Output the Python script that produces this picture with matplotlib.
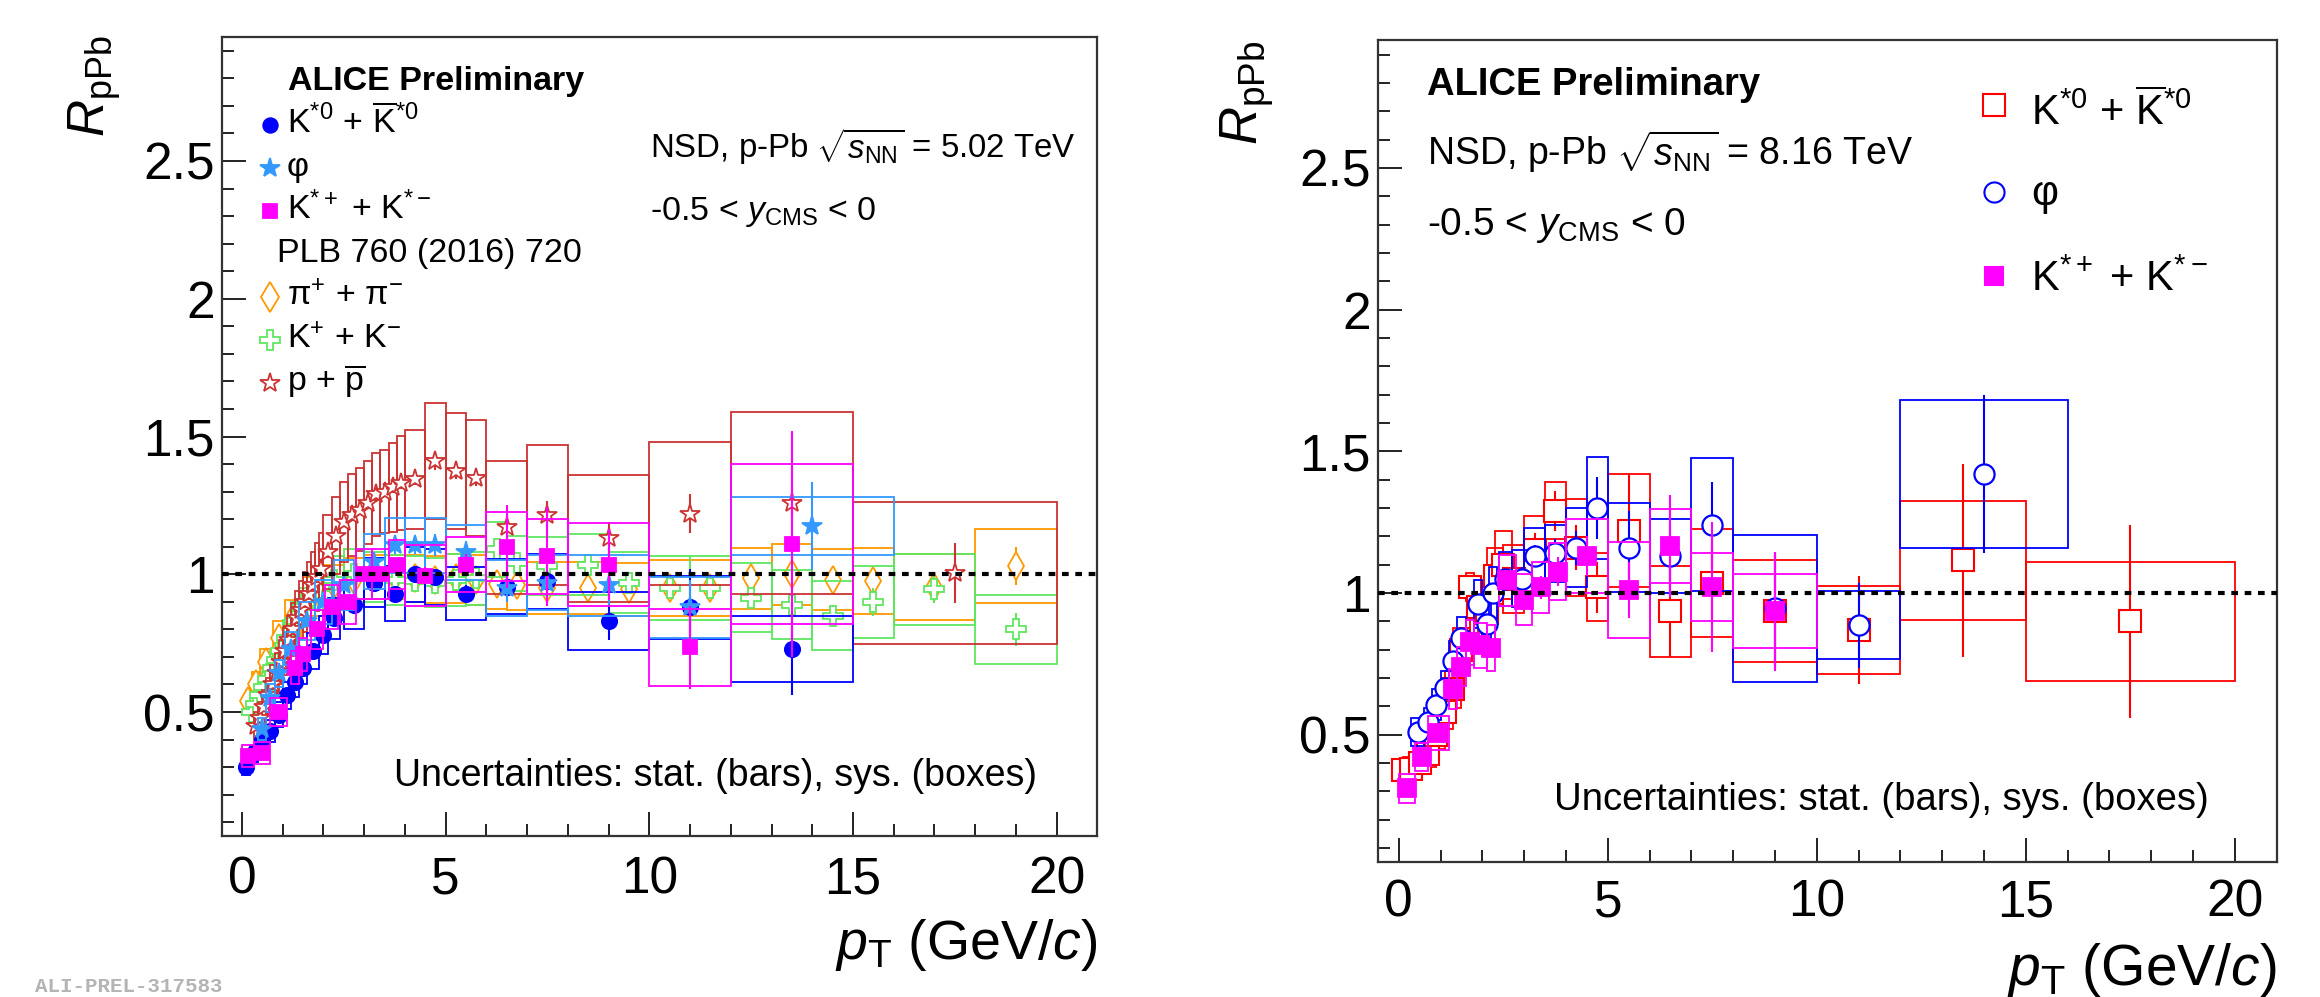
import matplotlib
matplotlib.use('Agg')
import matplotlib.pyplot as plt
from matplotlib.patches import Rectangle
from matplotlib.ticker import FixedLocator, FuncFormatter
import numpy as np

plt.rcParams['font.family'] = ['Liberation Sans', 'DejaVu Sans']
plt.rcParams['mathtext.fontset'] = 'custom'
plt.rcParams['mathtext.rm'] = 'Liberation Sans'
plt.rcParams['mathtext.it'] = 'Liberation Sans:italic'
plt.rcParams['mathtext.bf'] = 'Liberation Sans:bold'

# ---------------- LEFT PANEL DATA (p-Pb 5.02 TeV) ----------------
kst0_x = [0.1, 0.3, 0.5, 0.7, 0.9, 1.1, 1.3, 1.5, 1.75, 2.0, 2.25, 2.75, 3.25, 3.75, 4.25, 4.75, 5.5, 6.5, 7.5, 9.0, 11.0, 13.5]
kst0_y = [0.30, 0.35, 0.40, 0.43, 0.49, 0.56, 0.61, 0.66, 0.72, 0.78, 0.84, 0.89, 0.97, 0.93, 1.00, 0.99, 0.93, 0.955, 0.975, 0.83, 0.88, 0.73]
kst0_stat = [0.01, 0.01, 0.01, 0.01, 0.01, 0.01, 0.01, 0.01, 0.015, 0.015, 0.015, 0.02, 0.02, 0.02, 0.03, 0.03, 0.03, 0.04, 0.05, 0.07, 0.14, 0.17]
kst0_sys = [0.03, 0.03, 0.035, 0.04, 0.045, 0.05, 0.055, 0.06, 0.065, 0.07, 0.075, 0.09, 0.09, 0.10, 0.10, 0.10, 0.095, 0.10, 0.10, 0.105, 0.115, 0.12]
kst0_hw = [0.1, 0.1, 0.1, 0.1, 0.1, 0.1, 0.1, 0.1, 0.15, 0.1, 0.15, 0.25, 0.25, 0.25, 0.25, 0.25, 0.5, 0.5, 0.5, 1.0, 1.0, 1.5]

phi_x = [0.5, 0.7, 0.9, 1.2, 1.6, 2.0, 2.5, 3.25, 3.75, 4.25, 4.75, 5.5, 6.5, 7.5, 9.0, 11.0, 14.0]
phi_y = [0.44, 0.55, 0.64, 0.73, 0.83, 0.90, 0.96, 1.045, 1.105, 1.105, 1.105, 1.08, 0.95, 0.97, 0.96, 0.88, 1.175]
phi_stat = [0.02, 0.02, 0.02, 0.02, 0.02, 0.02, 0.02, 0.03, 0.03, 0.03, 0.04, 0.04, 0.05, 0.06, 0.07, 0.10, 0.16]
phi_sys = [0.04, 0.05, 0.05, 0.06, 0.07, 0.08, 0.09, 0.10, 0.10, 0.10, 0.10, 0.10, 0.10, 0.10, 0.11, 0.11, 0.105]
phi_hw = [0.1, 0.1, 0.1, 0.15, 0.2, 0.2, 0.25, 0.25, 0.25, 0.25, 0.25, 0.5, 0.5, 0.5, 1.0, 1.0, 2.0]

kstc_x = [0.15, 0.5, 0.9, 1.3, 1.5, 1.85, 2.2, 2.6, 3.0, 3.4, 3.8, 4.5, 5.5, 6.5, 7.5, 9.0, 11.0, 13.5]
kstc_y = [0.34, 0.35, 0.50, 0.66, 0.71, 0.80, 0.88, 0.90, 1.00, 1.00, 1.035, 0.995, 1.035, 1.10, 1.065, 1.035, 0.735, 1.11]
kstc_stat = [0.01, 0.01, 0.01, 0.01, 0.01, 0.015, 0.015, 0.02, 0.02, 0.02, 0.025, 0.03, 0.04, 0.15, 0.18, 0.13, 0.15, 0.41]
kstc_sys = [0.04, 0.04, 0.05, 0.06, 0.06, 0.07, 0.08, 0.08, 0.09, 0.09, 0.09, 0.11, 0.10, 0.125, 0.135, 0.15, 0.14, 0.29]
kstc_hw = [0.15, 0.2, 0.2, 0.1, 0.1, 0.15, 0.15, 0.2, 0.2, 0.2, 0.2, 0.5, 0.5, 0.5, 0.5, 1.0, 1.0, 1.5]

pi_x = [0.15, 0.35, 0.6, 0.9, 1.25, 1.75, 2.25, 2.75, 3.25, 3.75, 4.25, 4.75, 5.25, 5.75, 6.25, 6.75, 7.5, 8.5, 9.5, 10.5, 11.5, 12.5, 13.5, 14.5, 15.5, 17.0, 19.0]
pi_y = [0.54, 0.60, 0.68, 0.77, 0.84, 0.92, 0.96, 0.98, 0.99, 0.99, 0.985, 0.98, 0.985, 0.98, 0.965, 0.96, 0.95, 0.95, 0.945, 0.95, 0.95, 0.985, 1.0, 0.98, 0.975, 0.955, 1.03]
pi_stat = [0.04, 0.01, 0.01, 0.01, 0.01, 0.01, 0.01, 0.01, 0.01, 0.01, 0.01, 0.01, 0.01, 0.01, 0.015, 0.015, 0.015, 0.02, 0.02, 0.02, 0.025, 0.03, 0.03, 0.03, 0.04, 0.05, 0.07]
pi_sys = [0.04, 0.045, 0.05, 0.06, 0.065, 0.07, 0.075, 0.08, 0.08, 0.08, 0.085, 0.085, 0.09, 0.09, 0.09, 0.09, 0.095, 0.095, 0.095, 0.10, 0.10, 0.11, 0.11, 0.11, 0.12, 0.12, 0.135]
pi_hw = [0.05, 0.1, 0.15, 0.15, 0.2, 0.25, 0.25, 0.25, 0.25, 0.25, 0.25, 0.25, 0.25, 0.25, 0.25, 0.25, 0.5, 0.5, 0.5, 0.5, 0.5, 0.5, 0.5, 0.5, 0.5, 1.0, 1.0]

kch_x = [0.25, 0.35, 0.45, 0.55, 0.65, 0.75, 0.85, 0.95, 1.1, 1.3, 1.5, 1.7, 1.9, 2.25, 2.75, 3.25, 3.75, 4.25, 4.75, 5.25, 5.75, 6.25, 6.75, 7.5, 8.5, 9.5, 10.5, 11.5, 12.5, 13.5, 14.5, 15.5, 17.0, 19.0]
kch_y = [0.50, 0.53, 0.56, 0.59, 0.62, 0.66, 0.69, 0.72, 0.77, 0.83, 0.88, 0.92, 0.95, 0.98, 1.0, 0.99, 0.98, 0.975, 0.97, 0.98, 0.985, 1.09, 1.04, 1.03, 1.035, 0.97, 0.95, 0.95, 0.915, 0.89, 0.85, 0.90, 0.945, 0.80]
kch_stat = [0.01, 0.01, 0.01, 0.01, 0.01, 0.01, 0.01, 0.01, 0.01, 0.01, 0.01, 0.01, 0.01, 0.01, 0.01, 0.01, 0.01, 0.01, 0.015, 0.015, 0.015, 0.02, 0.02, 0.02, 0.025, 0.025, 0.03, 0.03, 0.03, 0.035, 0.04, 0.05, 0.05, 0.06]
kch_sys = [0.05, 0.05, 0.05, 0.055, 0.055, 0.06, 0.06, 0.06, 0.065, 0.07, 0.07, 0.075, 0.08, 0.085, 0.09, 0.09, 0.09, 0.09, 0.09, 0.095, 0.095, 0.10, 0.10, 0.105, 0.11, 0.11, 0.115, 0.115, 0.125, 0.125, 0.125, 0.13, 0.13, 0.125]
kch_hw = [0.05, 0.05, 0.05, 0.05, 0.05, 0.05, 0.05, 0.05, 0.1, 0.1, 0.1, 0.1, 0.1, 0.25, 0.25, 0.25, 0.25, 0.25, 0.25, 0.25, 0.25, 0.25, 0.25, 0.5, 0.5, 0.5, 0.5, 0.5, 0.5, 0.5, 0.5, 0.5, 1.0, 1.0]

p_x = [0.35, 0.45, 0.55, 0.65, 0.75, 0.85, 0.95, 1.05, 1.15, 1.25, 1.35, 1.45, 1.55, 1.65, 1.75, 1.85, 1.95, 2.1, 2.3, 2.5, 2.7, 2.9, 3.1, 3.3, 3.5, 3.7, 3.9, 4.25, 4.75, 5.25, 5.75, 6.5, 7.5, 9.0, 11.0, 13.5, 17.5]
p_y = [0.45, 0.48, 0.52, 0.56, 0.60, 0.64, 0.68, 0.72, 0.76, 0.80, 0.84, 0.87, 0.90, 0.93, 0.96, 0.99, 1.02, 1.08, 1.14, 1.19, 1.215, 1.235, 1.26, 1.29, 1.30, 1.315, 1.33, 1.345, 1.41, 1.375, 1.35, 1.17, 1.215, 1.13, 1.22, 1.26, 1.005]
p_stat = [0.02, 0.02, 0.02, 0.02, 0.02, 0.02, 0.02, 0.02, 0.02, 0.02, 0.02, 0.02, 0.02, 0.02, 0.02, 0.02, 0.02, 0.02, 0.02, 0.02, 0.02, 0.02, 0.02, 0.02, 0.02, 0.02, 0.02, 0.02, 0.03, 0.03, 0.03, 0.05, 0.05, 0.06, 0.07, 0.05, 0.11]
p_sys = [0.05, 0.055, 0.06, 0.065, 0.07, 0.075, 0.08, 0.085, 0.09, 0.095, 0.10, 0.105, 0.11, 0.115, 0.12, 0.125, 0.13, 0.135, 0.14, 0.145, 0.15, 0.15, 0.15, 0.15, 0.15, 0.16, 0.17, 0.18, 0.21, 0.21, 0.21, 0.24, 0.255, 0.23, 0.26, 0.33, 0.257]
p_hw = [0.05, 0.05, 0.05, 0.05, 0.05, 0.05, 0.05, 0.05, 0.05, 0.05, 0.05, 0.05, 0.05, 0.05, 0.05, 0.05, 0.05, 0.1, 0.1, 0.1, 0.1, 0.1, 0.1, 0.1, 0.1, 0.1, 0.1, 0.25, 0.25, 0.25, 0.25, 0.5, 0.5, 1.0, 1.0, 1.5, 2.5]

# ---------------- RIGHT PANEL DATA (p-Pb 8.16 TeV) ----------------
rk0_x = [0.1, 0.3, 0.5, 0.7, 0.9, 1.1, 1.3, 1.5, 1.7, 1.9, 2.1, 2.3, 2.5, 2.75, 3.25, 3.75, 4.25, 4.75, 5.5, 6.5, 7.5, 9.0, 11.0, 13.5, 17.5]
rk0_y = [0.375, 0.38, 0.40, 0.43, 0.50, 0.58, 0.66, 0.80, 1.02, 0.95, 0.93, 1.06, 1.10, 1.05, 1.15, 1.29, 1.16, 1.02, 1.22, 0.935, 1.035, 0.935, 0.87, 1.115, 0.90]
rk0_stat = [0.02, 0.02, 0.02, 0.02, 0.02, 0.02, 0.02, 0.03, 0.04, 0.03, 0.03, 0.04, 0.05, 0.05, 0.06, 0.07, 0.08, 0.09, 0.20, 0.16, 0.12, 0.20, 0.19, 0.34, 0.34]
rk0_sys = [0.04, 0.04, 0.04, 0.045, 0.05, 0.06, 0.065, 0.075, 0.05, 0.09, 0.10, 0.10, 0.12, 0.12, 0.12, 0.10, 0.17, 0.12, 0.20, 0.16, 0.19, 0.18, 0.155, 0.21, 0.21]
rk0_hw = [0.2, 0.2, 0.2, 0.2, 0.2, 0.2, 0.2, 0.2, 0.1, 0.2, 0.2, 0.2, 0.2, 0.25, 0.25, 0.25, 0.25, 0.25, 0.5, 0.5, 0.5, 1.0, 1.0, 1.5, 2.5]

rphi_x = [0.45, 0.7, 0.9, 1.1, 1.3, 1.5, 1.9, 2.1, 2.25, 2.55, 2.95, 3.25, 3.75, 4.25, 4.75, 5.5, 6.5, 7.5, 9.0, 11.0, 14.0]
rphi_y = [0.51, 0.545, 0.605, 0.665, 0.76, 0.84, 0.96, 0.89, 1.0, 1.05, 1.05, 1.13, 1.14, 1.16, 1.30, 1.16, 1.13, 1.24, 0.945, 0.885, 1.42]
rphi_stat = [0.02, 0.02, 0.02, 0.02, 0.02, 0.02, 0.03, 0.03, 0.03, 0.03, 0.04, 0.04, 0.05, 0.06, 0.11, 0.13, 0.11, 0.15, 0.20, 0.15, 0.28]
rphi_sys = [0.05, 0.05, 0.055, 0.06, 0.07, 0.075, 0.085, 0.08, 0.09, 0.095, 0.10, 0.10, 0.10, 0.14, 0.18, 0.157, 0.13, 0.235, 0.26, 0.12, 0.26]
rphi_hw = [0.15, 0.1, 0.1, 0.1, 0.1, 0.1, 0.1, 0.1, 0.1, 0.15, 0.25, 0.25, 0.25, 0.25, 0.25, 0.5, 0.5, 0.5, 1.0, 1.0, 2.0]

rkc_x = [0.2, 0.55, 0.95, 1.3, 1.5, 1.7, 1.95, 2.2, 2.6, 3.0, 3.4, 3.8, 4.5, 5.5, 6.5, 7.5, 9.0]
rkc_y = [0.31, 0.42, 0.505, 0.66, 0.74, 0.825, 0.815, 0.805, 1.045, 0.975, 1.02, 1.075, 1.13, 1.01, 1.165, 1.02, 0.935]
rkc_stat = [0.03, 0.02, 0.02, 0.02, 0.02, 0.02, 0.02, 0.02, 0.03, 0.03, 0.04, 0.05, 0.07, 0.10, 0.18, 0.23, 0.21]
rkc_sys = [0.05, 0.05, 0.06, 0.07, 0.07, 0.08, 0.08, 0.08, 0.09, 0.09, 0.09, 0.10, 0.13, 0.17, 0.13, 0.12, 0.13]
rkc_hw = [0.2, 0.15, 0.25, 0.1, 0.1, 0.1, 0.15, 0.1, 0.2, 0.2, 0.2, 0.2, 0.5, 0.5, 0.5, 0.5, 1.0]

x_ticks = [0, 5, 10, 15, 20]
y_ticks = [0.5, 1, 1.5, 2, 2.5]

# ---------------- FIGURE ----------------
W, H = 2320, 997
fig = plt.figure(figsize=(W / 100, H / 100), dpi=100)


def axes_px(l, t, r, b):
    return fig.add_axes([l / W, 1 - b / H, (r - l) / W, (b - t) / H])


axL = axes_px(221.6, 37, 1097.4, 836)
axR = axes_px(1377.8, 40.5, 2276.7, 862)

for ax, xpad in ((axL, 14), (axR, 12)):
    ax.set_xlim(-0.5, 21)
    ax.set_ylim(0.05, 2.95)
    ax.xaxis.set_major_locator(FixedLocator(x_ticks))
    ax.xaxis.set_minor_locator(FixedLocator(list(range(0, 21))))
    ax.yaxis.set_major_locator(FixedLocator(y_ticks))
    ax.yaxis.set_minor_locator(FixedLocator([v / 10 for v in range(1, 30)]))
    ax.yaxis.set_major_formatter(FuncFormatter(lambda v, p: '%g' % v))
    ax.tick_params(which='both', direction='in', top=False, right=False, width=1.4, color='#222222')
    ax.tick_params(which='major', length=17)
    ax.tick_params(which='minor', length=8.5)
    ax.tick_params(axis='both', labelsize=37)
    ax.tick_params(axis='y', pad=5)
    ax.tick_params(axis='x', pad=xpad)
    for s in ax.spines.values():
        s.set_linewidth(1.6)
        s.set_color('#333333')
    ax.axhline(1.0, color='black', lw=3, ls=(0, (1.6, 1.6)), zorder=20)


def draw(ax, x, y, stat, sys, hw, color, marker, ms, filled, z, mew=1.3):
    for xi, yi, si, hi in zip(x, y, sys, hw):
        ax.add_patch(Rectangle((xi - hi, yi - si), 2 * hi, 2 * si, fill=False,
                               ec=color, lw=1.3, zorder=z))
    ax.errorbar(x, y, yerr=stat, fmt='none', ecolor=color, elinewidth=1.5,
                capsize=0, zorder=z + 0.1)
    ax.plot(x, y, ls='none', marker=marker, ms=ms,
            mfc=color if filled else 'white', mec=color, mew=mew, zorder=z + 0.2)


C_K0 = '#0000ff'
C_PHI = '#3399ff'
C_KC = '#ff00ff'
C_PI = '#ff9900'
C_K = '#5fe65f'
C_P = '#cc3333'

draw(axL, pi_x, pi_y, pi_stat, pi_sys, pi_hw, C_PI, 'd', 14, False, 2)
draw(axL, kch_x, kch_y, kch_stat, kch_sys, kch_hw, C_K, 'P', 14, False, 3)
draw(axL, p_x, p_y, p_stat, p_sys, p_hw, C_P, '*', 15, False, 4)
draw(axL, kst0_x, kst0_y, kst0_stat, kst0_sys, kst0_hw, C_K0, 'o', 11, True, 5)
draw(axL, phi_x, phi_y, phi_stat, phi_sys, phi_hw, C_PHI, '*', 15, True, 6)
draw(axL, kstc_x, kstc_y, kstc_stat, kstc_sys, kstc_hw, C_KC, 's', 10.5, True, 7)

R_K0 = '#ff0000'
draw(axR, rk0_x, rk0_y, rk0_stat, rk0_sys, rk0_hw, R_K0, 's', 15.5, False, 3, mew=1.5)
draw(axR, rphi_x, rphi_y, rphi_stat, rphi_sys, rphi_hw, C_K0, 'o', 14.5, False, 4, mew=1.6)
draw(axR, rkc_x, rkc_y, rkc_stat, rkc_sys, rkc_hw, C_KC, 's', 13, True, 5)


# ---------------- TEXT HELPERS ----------------
def fx(ax, px):
    l = ax.get_position().x0 * W
    w = ax.get_position().width * W
    return (px - l) / w


def fy(ax, py):
    b = (1 - ax.get_position().y0) * H
    h = ax.get_position().height * H
    return (b - py) / h


# ---------------- TEXT: LEFT ----------------
axL.text(fx(axL, 288), fy(axL, 90), 'ALICE Preliminary', transform=axL.transAxes,
         fontsize=24.5, fontweight='bold', va='baseline')
leftleg = [
    (r'K$^{*0}$ + $\overline{\rm K}^{*0}$', 133, C_K0, 'o', 10.5, True),
    ('φ', 176, C_PHI, '*', 15, True),
    (r'K$^{*+}$ + K$^{*-}$', 219, C_KC, 's', 10.5, True),
    ('PLB 760 (2016) 720', 262, None, None, 0, False),
    (r'π$^{+}$ + π$^{-}$', 305, C_PI, 'd', 15, False),
    (r'K$^{+}$ + K$^{-}$', 348, C_K, 'P', 14, False),
    (r'p + $\overline{\rm p}$', 391, C_P, '*', 15, False),
]
for lab, base, col, mk, ms, filled in leftleg:
    if mk is None:
        axL.text(fx(axL, 277), fy(axL, base), lab, transform=axL.transAxes,
                 fontsize=24.5, va='baseline')
        continue
    axL.plot([fx(axL, 270)], [fy(axL, base - 8)], transform=axL.transAxes, ls='none',
             marker=mk, ms=ms, mfc=col if filled else 'white', mec=col, mew=1.3, clip_on=False)
    axL.text(fx(axL, 287), fy(axL, base), lab, transform=axL.transAxes,
             fontsize=24.5, va='baseline')

axL.text(fx(axL, 650), fy(axL, 158), r'NSD, p-Pb $\sqrt{s_{\rm NN}}$ = 5.02 TeV',
         transform=axL.transAxes, fontsize=23.8, va='baseline')
axL.text(fx(axL, 650), fy(axL, 220), r'-0.5 < $y_{\rm CMS}$ < 0',
         transform=axL.transAxes, fontsize=24.5, va='baseline')
axL.text(fx(axL, 394), fy(axL, 786), 'Uncertainties: stat. (bars), sys. (boxes)',
         transform=axL.transAxes, fontsize=27, va='baseline')

# ---------------- TEXT: RIGHT ----------------
axR.text(fx(axR, 1427), fy(axR, 95), 'ALICE Preliminary', transform=axR.transAxes,
         fontsize=27.5, fontweight='bold', va='baseline')
axR.text(fx(axR, 1427), fy(axR, 165), r'NSD, p-Pb $\sqrt{s_{\rm NN}}$ = 8.16 TeV',
         transform=axR.transAxes, fontsize=27, va='baseline')
axR.text(fx(axR, 1427), fy(axR, 235), r'-0.5 < $y_{\rm CMS}$ < 0',
         transform=axR.transAxes, fontsize=28, va='baseline')
rightleg = [
    (r'K$^{*0}$ + $\overline{\rm K}^{*0}$', 125, 105, R_K0, 's', 15.5, False),
    ('φ', 205, 192, C_K0, 'o', 14.5, False),
    (r'K$^{*+}$ + K$^{*-}$', 291, 276, C_KC, 's', 13, True),
]
for lab, base, mc, col, mk, ms, filled in rightleg:
    axR.plot([fx(axR, 1994)], [fy(axR, mc)], transform=axR.transAxes, ls='none',
             marker=mk, ms=ms, mfc=col if filled else 'white', mec=col, mew=1.5, clip_on=False)
    axR.text(fx(axR, 2031), fy(axR, base), lab, transform=axR.transAxes,
             fontsize=30, va='baseline')
axR.text(fx(axR, 1554), fy(axR, 810), 'Uncertainties: stat. (bars), sys. (boxes)',
         transform=axR.transAxes, fontsize=27.5, va='baseline')

# ---------------- AXIS TITLES ----------------
fig.text(95 / W, 1 - 35 / H, r'$R_{\rm pPb}$', rotation=90, ha='center', va='top', fontsize=37)
fig.text(1247 / W, 1 - 41 / H, r'$R_{\rm pPb}$', rotation=90, ha='center', va='top', fontsize=38)
fig.text(1097.4 / W, 1 - 958.5 / H, r'$p_{\rm T}$ (GeV/$c$)', ha='right', va='baseline', fontsize=40)
fig.text(2276.7 / W, 1 - 984.5 / H, r'$p_{\rm T}$ (GeV/$c$)', ha='right', va='baseline', fontsize=41)

fig.text(35 / W, 1 - 996 / H, 'ALI-PREL-317583', family='Liberation Mono', fontweight='bold',
         fontsize=15, color='#b4b4b4', va='bottom')

fig.savefig('out.png', dpi=100)
